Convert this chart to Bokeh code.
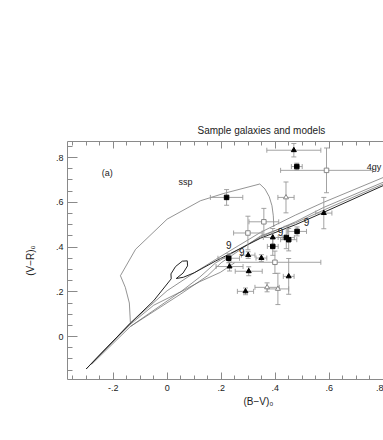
import numpy as np
from bokeh.plotting import figure
from bokeh.models import Range1d, FixedTicker, LinearAxis, Label, Title
from bokeh.core.properties import value
from bokeh.embed import file_html
from bokeh.resources import INLINE

FONT = "Liberation Sans"

# ---- data -------------------------------------------------------------
# filled squares: x, y, xerr, yerr
fs_x = [0.480, 0.220, 0.481, 0.441, 0.450, 0.391, 0.228]
fs_y = [0.760, 0.622, 0.470, 0.443, 0.433, 0.403, 0.350]
fs_xe = [0.020, 0.060, 0.035, 0.030, 0.030, 0.020, 0.040]
fs_ye = [0.015, 0.035, 0.020, 0.050, 0.050, 0.040, 0.020]

# filled triangles
ft_x = [0.469, 0.391, 0.580, 0.231, 0.300, 0.349, 0.302, 0.450, 0.290]
ft_y = [0.833, 0.443, 0.552, 0.313, 0.364, 0.351, 0.292, 0.269, 0.202]
ft_xe = [0.100, 0.035, 0.030, 0.050, 0.025, 0.020, 0.050, 0.020, 0.030]
ft_ye = [0.030, 0.040, 0.070, 0.020, 0.015, 0.015, 0.020, 0.080, 0.015]

# open squares
os_x = [0.590, 0.358, 0.299, 0.399]
os_y = [0.743, 0.513, 0.463, 0.332]
os_xe = [0.170, 0.055, 0.053, 0.170]
os_ye = [0.100, 0.060, 0.075, 0.050]

# open triangles
ot_x = [0.440, 0.370, 0.410]
ot_y = [0.622, 0.220, 0.213]
ot_xe = [0.030, 0.045, 0.040]
ot_ye = [0.069, 0.020, 0.070]

# model tracks
ssp_x = [-0.300, -0.136, -0.140, -0.155, -0.173, -0.117, 0.000, 0.123, 0.210, 0.343, 0.362, 0.378, 0.388, 0.393, 0.395]
ssp_y = [-0.145, 0.060, 0.150, 0.220, 0.272, 0.390, 0.525, 0.607, 0.640, 0.682, 0.660, 0.625, 0.585, 0.540, 0.490]

t1_x = [-0.300, -0.136, 0.000, 0.100, 0.180, 0.346, 0.475, 0.579, 0.800]
t1_y = [-0.145, 0.060, 0.205, 0.285, 0.345, 0.466, 0.543, 0.600, 0.711]

t2_x = [-0.300, -0.200, -0.136, -0.050, 0.015, 0.014, 0.031, 0.056, 0.0745, 0.0755, 0.0586, 0.0337, 0.060, 0.100, 0.180, 0.346, 0.475, 0.579, 0.800]
t2_y = [-0.145, -0.020, 0.060, 0.160, 0.258, 0.280, 0.313, 0.337, 0.3384, 0.316, 0.2835, 0.2594, 0.265, 0.285, 0.338, 0.440, 0.500, 0.555, 0.675]

t3_x = [-0.300, -0.136, -0.050, 0.050, 0.120, 0.180, 0.346, 0.475, 0.579, 0.800]
t3_y = [-0.145, 0.055, 0.140, 0.200, 0.265, 0.330, 0.445, 0.513, 0.577, 0.690]

t4_x = [-0.280, -0.136, 0.050, 0.150, 0.200, 0.346, 0.475, 0.579, 0.800]
t4_y = [-0.125, 0.045, 0.190, 0.272, 0.330, 0.450, 0.508, 0.565, 0.682]

t5_x = [-0.136, 0.043, 0.120, 0.197, 0.250]
t5_y = [0.045, 0.195, 0.245, 0.287, 0.330]

nine_x = [0.516, 0.420, 0.228, 0.276]
nine_y = [0.510, 0.469, 0.410, 0.380]

x_ticks = [-0.2, 0.0, 0.2, 0.4, 0.6, 0.8]
x_tick_labels = ["-.2", "0", ".2", ".4", ".6", ".8"]
y_ticks = [0.0, 0.2, 0.4, 0.6, 0.8]
y_tick_labels = ["0", ".2", ".4", ".6", ".8"]

# ---- figure -----------------------------------------------------------
p = figure(width=383, height=432, output_backend="svg", toolbar_location=None,
           x_range=Range1d(-0.369, 0.801), y_range=Range1d(-0.192, 0.872),
           min_border_left=67, min_border_right=0, min_border_top=141,
           min_border_bottom=53, x_axis_location=None, y_axis_location=None)
p.grid.visible = False
p.outline_line_color = None
p.background_fill_color = "white"
p.border_fill_color = "white"

AX = "#8a8a8a"
minor_x = [round(v, 3) for v in np.arange(-0.35, 0.801, 0.05)]
minor_y = [round(v, 3) for v in np.arange(-0.15, 0.871, 0.05)]


def style_axis(ax, tin, min_in):
    ax.axis_line_color = AX
    ax.major_tick_line_color = AX
    ax.minor_tick_line_color = AX
    ax.major_tick_in = tin
    ax.major_tick_out = 0
    ax.minor_tick_in = min_in
    ax.minor_tick_out = 0
    ax.major_label_text_font = FONT
    ax.major_label_text_font_size = "9px"
    ax.major_label_text_color = "#222222"


xb = LinearAxis(ticker=FixedTicker(ticks=x_ticks, minor_ticks=minor_x))
style_axis(xb, 7, 4)
xb.major_label_overrides = {t: l for t, l in zip(x_ticks, x_tick_labels)}
xb.major_label_standoff = 5
p.add_layout(xb, "below")

xt = LinearAxis(ticker=FixedTicker(ticks=x_ticks, minor_ticks=minor_x))
style_axis(xt, 7, 4)
xt.major_label_text_color = None
xt.major_label_standoff = 0
p.add_layout(xt, "above")

yl = LinearAxis(ticker=FixedTicker(ticks=y_ticks, minor_ticks=minor_y))
style_axis(yl, 10, 5)
yl.major_label_overrides = {t: l for t, l in zip(y_ticks, y_tick_labels)}
yl.major_label_standoff = 4
yl.axis_label = "(V\u2212R)\u2080"
yl.axis_label_text_font = FONT
yl.axis_label_text_font_size = "10px"
yl.axis_label_text_font_style = "normal"
yl.axis_label_text_color = "#222222"
yl.axis_label_standoff = 17
p.add_layout(yl, "left")

# title and x label as offset titles
top_title = Title(text="Sample galaxies and models", align="left", offset=130,
                  text_font=FONT, text_font_size="10px", text_font_style="normal",
                  text_color="#222222", standoff=11)
p.add_layout(top_title, "above")

xlab = Title(text="(B\u2212V)\u2080", align="left", offset=176,
             text_font=FONT, text_font_size="10px", text_font_style="normal",
             text_color="#222222", standoff=0)
p.add_layout(xlab, "below")

# ---- model tracks ------------------------------------------------------
LC = "#666666"
p.line(ssp_x, ssp_y, line_color=LC, line_width=0.7)
p.line(t1_x, t1_y, line_color=LC, line_width=0.7)
p.line(t3_x, t3_y, line_color=LC, line_width=0.7)
p.line(t4_x, t4_y, line_color=LC, line_width=0.7)
p.line(t5_x, t5_y, line_color=LC, line_width=0.7)
p.line(t2_x, t2_y, line_color="#222222", line_width=1.0)

# ---- error bars + markers ---------------------------------------------
EB = "#999999"


def errbars(xs, ys, xe, ye):
    xs, ys, xe, ye = map(np.asarray, (xs, ys, xe, ye))
    p.segment(xs - xe, ys, xs + xe, ys, line_color=EB, line_width=0.9)
    p.segment(xs, ys - ye, xs, ys + ye, line_color=EB, line_width=0.9)
    p.scatter(np.concatenate([xs - xe, xs + xe]), np.concatenate([ys, ys]),
              marker="dash", size=5, angle=np.pi / 2, line_color=EB, line_width=0.9)
    p.scatter(np.concatenate([xs, xs]), np.concatenate([ys - ye, ys + ye]),
              marker="dash", size=5, line_color=EB, line_width=0.9)


errbars(fs_x, fs_y, fs_xe, fs_ye)
errbars(ft_x, ft_y, ft_xe, ft_ye)
errbars(os_x, os_y, os_xe, os_ye)
errbars(ot_x, ot_y, ot_xe, ot_ye)

p.scatter(fs_x, fs_y, marker="square", size=4.5, fill_color="black", line_color="black")
p.scatter(ft_x, ft_y, marker="triangle", size=5, fill_color="black", line_color="black")
p.scatter(os_x, os_y, marker="square", size=4.5, fill_color="white", line_color="#888888")
p.scatter(ot_x, ot_y, marker="triangle", size=5, fill_color="white", line_color="#888888")

# ---- texts -------------------------------------------------------------
p.text(nine_x, nine_y, text=["9"] * len(nine_x), text_font=value(FONT),
       text_font_size="10px", text_align="center", text_baseline="middle",
       text_color="#222222")


def lab(x, y, t, size="9px", align="center"):
    p.add_layout(Label(x=x, y=y, text=t, text_font=FONT, text_font_size=size,
                       text_align=align, text_baseline="middle", text_color="#222222"))


lab(-0.222, 0.732, "(a)")
lab(0.068, 0.690, "ssp")
lab(0.739, 0.756, "4gy", align="left")

open("out.html", "w").write(file_html(p, INLINE))
